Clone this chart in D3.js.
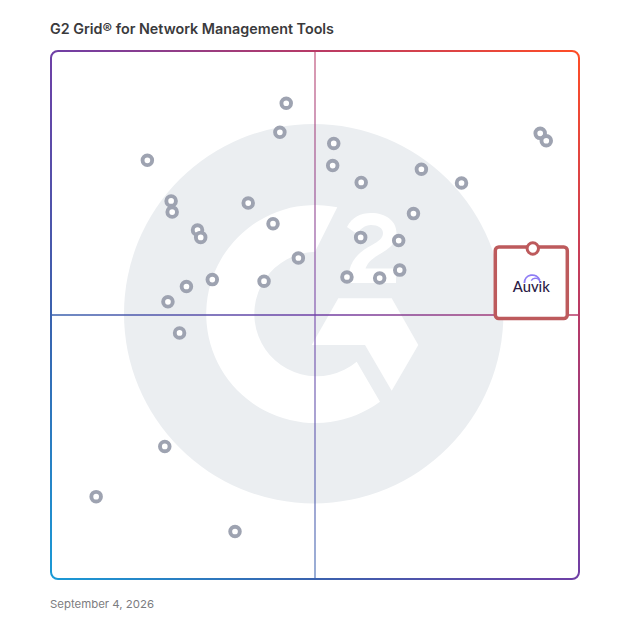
<!DOCTYPE html>
<html><head><meta charset="utf-8">
<script src="https://cdnjs.cloudflare.com/ajax/libs/d3/7.8.5/d3.min.js"></script>
<style>html,body{margin:0;padding:0;background:#fff}svg{display:block}</style>
</head><body>
<svg id="c" width="628" height="628"></svg>
<script>
const titleText = "G2 Grid\u00AE for Network Management Tools";
const dateText = "September 4, 2026";
const highlightName = "Auvik";
// Satisfaction (x) and market presence (y), both on 0-100
const xValues = [44.55,43.35,18.25,53.55,53.35,58.75,70.15,77.75,22.75,22.95,37.35,42.05,27.75,28.35,68.65,58.65,65.85,46.85,66.05,56.05,62.25,30.55,40.35,25.65,22.15,24.35,21.55,8.55,34.85,92.65,93.8];
const yValues = [90.1,84.6,79.3,82.5,78.3,75.1,77.6,75.0,71.6,69.5,71.2,67.3,66.1,64.7,69.2,64.7,64.1,60.8,58.5,57.2,57.0,56.7,56.4,55.4,52.5,46.6,25.1,15.6,9.0,84.4,83.0];
const highlightX = 91.25, highlightY = 62.6;
const gradientStops = [[0,"#1a9ad6"],[0.25,"#3a62ae"],[0.5,"#6f3fa6"],[0.75,"#b83a66"],[1,"#ff4d26"]];

const svg = d3.select("#c");
const L=51, R=579, T=51, B=579;
const x = d3.scaleLinear().domain([0,100]).range([L,R]);
const y = d3.scaleLinear().domain([0,100]).range([B,T]);

const grad = svg.append("defs").append("linearGradient").attr("id","g")
  .attr("gradientUnits","userSpaceOnUse").attr("x1",L).attr("y1",B).attr("x2",R).attr("y2",T);
grad.selectAll("stop").data(gradientStops).join("stop").attr("offset",d=>d[0]).attr("stop-color",d=>d[1]);

// Watermark
const wm = svg.append("g");
wm.append("circle").attr("cx",313.7).attr("cy",313.7).attr("r",189.7).attr("fill","#ebeef1");
wm.append("path").attr("fill","#fff").attr("d","M337.3,207.3 A109,109 0 1 0 380,401.7 L356.7,361.7 A62.3,62.3 0 1 1 315,251.7 Z");
wm.append("path").attr("fill","#fff").attr("d","M338.3,298.3 L391.7,298.3 L418.3,345 L391.7,390.7 L365,345 L311.7,345 Z");
wm.append("path").attr("fill","#fff").attr("d","M347,227 C352,217 361,213 371,213 C386,213 396.5,221 396.5,233 C396.5,243 389,249 380,254 C373,258 368,262 365.5,268.5 L396,268.5 L396,283 L349.5,283 L349.5,270 C352,258 362,250 372,245 C379,241 383,238 383,233 C383,228 378,225 371,225 C365,225 360,229 357,234 Z");

// Frame and axes
svg.append("rect").attr("x",L).attr("y",T).attr("width",R-L).attr("height",B-T).attr("rx",7)
  .attr("fill","none").attr("stroke","url(#g)").attr("stroke-width",2);
svg.append("line").attr("x1",x(50)).attr("x2",x(50)).attr("y1",T).attr("y2",B)
  .attr("stroke","url(#g)").attr("stroke-width",1.3).attr("stroke-opacity",0.8);
svg.append("line").attr("x1",L).attr("x2",R).attr("y1",y(50)).attr("y2",y(50))
  .attr("stroke","url(#g)").attr("stroke-width",1.6);

// Vendors
svg.append("g").selectAll("circle").data(d3.zip(xValues,yValues)).join("circle")
  .attr("cx",d=>x(d[0])).attr("cy",d=>y(d[1])).attr("r",4.8)
  .attr("fill","#fff").attr("stroke","#9ea3b1").attr("stroke-width",3.9);

// Highlighted vendor
const hx=x(highlightX), hy=y(highlightY), col="#bd5a5c";
svg.append("rect").attr("x",hx-37.5).attr("y",hy-1.5).attr("width",72).attr("height",71.5).attr("rx",3.5)
  .attr("fill","#fff").attr("stroke",col).attr("stroke-width",3.5);
svg.append("circle").attr("cx",hx).attr("cy",hy).attr("r",5.7)
  .attr("fill","#fff").attr("stroke",col).attr("stroke-width",3);
svg.append("text").attr("x",hx-1.5).attr("y",hy+44).attr("text-anchor","middle")
  .attr("font-family","Lato, sans-serif").attr("font-size",15.5).attr("font-weight",500).attr("fill","#2b1b45")
  .attr("textLength",37).attr("lengthAdjust","spacingAndGlyphs").text(highlightName);
const arc=d3.arc();
svg.append("path").attr("transform",`translate(${hx-0.5},${hy+34.5})`).attr("fill","#8f7df5")
  .attr("d",arc({innerRadius:7,outerRadius:8.8,startAngle:-Math.PI/2,endAngle:Math.PI/2.6}));
svg.append("path").attr("transform",`translate(${hx+2.5},${hy+34.5})`).attr("fill","#8f7df5")
  .attr("d",arc({innerRadius:4,outerRadius:5.4,startAngle:-Math.PI/3,endAngle:Math.PI/2}));

// Text
svg.append("text").attr("x",50).attr("y",34).attr("font-family","Inter, sans-serif").attr("font-size",14)
  .attr("font-weight",600).attr("fill","#3a3a3c").attr("textLength",284).attr("lengthAdjust","spacingAndGlyphs").text(titleText);
svg.append("text").attr("x",50).attr("y",608).attr("font-family","Inter, sans-serif").attr("font-size",11)
  .attr("fill","#7c7c80").attr("textLength",104).attr("lengthAdjust","spacingAndGlyphs").text(dateText);
</script>
</body></html>
